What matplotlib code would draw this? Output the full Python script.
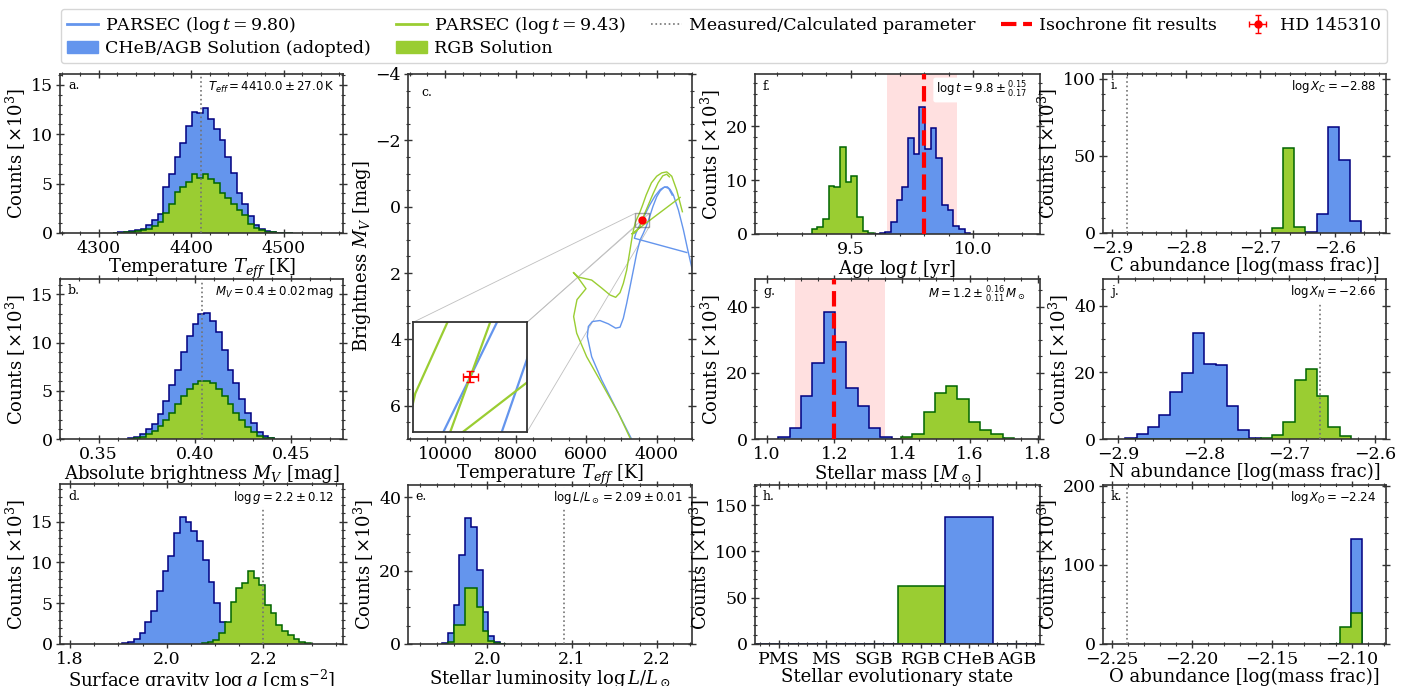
import matplotlib.pyplot as plt
import numpy as np
from matplotlib.lines import Line2D
from matplotlib.patches import ConnectionPatch, Patch
from matplotlib.ticker import AutoMinorLocator, MultipleLocator

plt.rcParams["font.family"] = ["DejaVu Serif Condensed", "DejaVu Serif"]
plt.rcParams["mathtext.fontset"] = "dejavuserif"
plt.rcParams["axes.edgecolor"] = "#333333"
plt.rcParams["axes.linewidth"] = 1.2

FIG_W, FIG_H = 1404, 686
BLUE, BLUE_EDGE = "cornflowerblue", "navy"
GREEN, GREEN_EDGE = "yellowgreen", "darkgreen"
LABEL_SIZE = 13
TICK_SIZE = 12.5

# a. effective temperature [K]; counts in thousands
teff_start, teff_step = 4314.8, 6.1
teff_cheb = [0.03, 0.06, 0.1, 0.2, 0.3, 0.45, 0.8, 1.3, 1.9, 4.7, 6.0, 7.7, 9.1, 10.8, 12.3, 12.2,
             12.7, 11.5, 10.5, 9.4, 7.7, 6.1, 4.1, 2.9, 1.75, 0.85, 0.45, 0.2, 0.1, 0.05, 0.03, 0.01]
teff_rgb = [0.02, 0.04, 0.07, 0.12, 0.2, 0.3, 0.45, 0.7, 1.1, 2.0, 2.9, 4.2, 4.7, 5.2, 6.0, 5.6,
            6.0, 5.5, 5.1, 4.0, 3.5, 2.9, 2.3, 1.85, 0.95, 0.5, 0.3, 0.15, 0.08, 0.05, 0.02, 0.01]
teff_obs = 4410.0

# b. absolute brightness M_V [mag]
mv_start, mv_step = 0.3655, 0.00303
mv_cheb = [0.1, 0.25, 0.48, 1.0, 1.6, 2.6, 3.9, 5.6, 7.2, 9.0, 10.7, 11.9, 13.0, 13.1, 12.2,
           11.1, 9.2, 7.2, 5.8, 4.2, 2.7, 1.7, 0.76, 0.3, 0.14]
mv_rgb = [0.05, 0.12, 0.25, 0.5, 0.8, 1.3, 2.0, 2.7, 3.6, 4.5, 5.2, 5.7, 6.0, 6.0, 5.8,
          5.2, 4.5, 3.6, 2.7, 2.0, 1.2, 0.7, 0.35, 0.15, 0.06]
mv_obs = 0.404

# d. surface gravity log g
logg_step = 0.0119
logg_cheb_start = 1.908
logg_cheb = [0.08, 0.2, 0.6, 1.3, 2.7, 4.1, 6.5, 9.0, 10.8, 13.6, 15.5, 15.0, 13.8, 12.6,
             10.3, 7.6, 5.0, 2.7, 1.6, 0.8, 0.3, 0.1]
logg_rgb_start = 2.0726
logg_rgb = [0.1, 0.2, 0.5, 1.4, 2.7, 5.2, 6.8, 7.5, 9.0, 8.1, 7.2, 4.8, 3.8, 2.3, 1.6, 1.1,
            0.6, 0.3, 0.1]
logg_obs = 2.2

# e. luminosity log L/Lsun
lum_start, lum_step = 1.9464, 0.00684
lum_cheb = [0.3, 3.1, 10.6, 24.2, 34.5, 31.8, 20.2, 8.8, 2.3, 0.45, 0.05]
lum_rgb = [0.1, 0.6, 5.2, 5.2, 15.2, 15.2, 10.2, 3.6, 0.9, 0.2, 0.02]
lum_obs = 2.0906

# f. age log t [yr]
age_start, age_step = 9.341, 0.0231
age_cheb = [0, 0.3, 0.3, 0, 0, 0, 0, 0, 0, 0, 0, 0, 0.12, 0.4, 2.2, 6.3, 8.7, 17.9, 14.9,
            23.6, 15.7, 19.7, 14.2, 5.3, 4.5, 1.4, 0.9, 0.2]
age_rgb = [0.9, 1.3, 2.7, 8.9, 8.7, 16.1, 9.6, 10.7, 3.2, 0.6, 0.2]
age_fit, age_lo, age_hi = 9.8, 9.65, 9.935

# g. stellar mass [Msun]
mass_cheb_start, mass_rgb_start, mass_step = 1.0343, 1.396, 0.0334
mass_cheb = [0.5, 3.3, 13.1, 23.1, 38.4, 29.2, 15.5, 9.9, 3.3, 0.5, 0, 0, 0, 0, 0, 0, 0, 0, 0.4]
mass_rgb = [0.5, 1.5, 8.2, 13.8, 16.1, 12.2, 5.2, 2.6, 1.4, 0.3]
mass_fit, mass_lo, mass_hi = 1.2, 1.085, 1.348

# h. evolutionary state
states = ["PMS", "MS", "SGB", "RGB", "CHeB", "AGB"]
state_rgb = [0, 0, 0, 63, 0, 0]
state_cheb = [0, 0, 0, 0, 137, 0]

# i. carbon
c_start, c_step = -2.6843, 0.01496
c_cheb = [0, 0, 0, 0.5, 12.5, 68.5, 47.1, 7.6]
c_rgb = [3.2, 55.0, 3.7]
c_obs = -2.88

# j. nitrogen
n_start, n_step = -2.892, 0.0132
n_cheb = [0.3, 1.5, 3.6, 7.1, 14.1, 19.8, 31.9, 22.6, 22.3, 10.0, 2.7, 0.4, 0, 0, 0, 0, 0, 0, 0.5]
n_rgb = [0, 0, 0, 0, 0, 0, 0, 0, 0, 0, 0, 0, 0.3, 1.1, 5.2, 17.6, 20.9, 12.8, 3.7, 1.0]
n_obs = -2.664

# k. oxygen
o_start, o_step = -2.1142, 0.006875
o_cheb = [0, 1.0, 133.0]
o_rgb = [0.5, 21.5, 39.0]
o_obs = -2.2406

# c. PARSEC isochrones (Teff [K], M_V [mag])
iso980_t = [4728, 5182, 5560, 5844, 5967, 5938, 5825, 5608, 5371, 5163, 5040, 4946, 4851, 4756,
            4662, 4567, 4470, 4380, 4299, 4209, 4110, 4000, 3900, 3800, 3700, 3620, 3527, 3385,
            3243, 3121, 3007, 2950]
iso980_mv = [6.97, 6.02, 5.22, 4.52, 3.91, 3.61, 3.46, 3.43, 3.53, 3.66, 3.63, 3.36, 2.91, 2.41,
             1.91, 1.40, 1.00, 0.80, 0.60, 0.33, 0.00, -0.30, -0.48, -0.58, -0.60, -0.52, -0.35,
             0.10, 0.70, 1.30, 1.83, 2.10]
iso980b_t = [3149, 4634, 4590, 4504, 4316, 4200, 4050, 3900, 3770, 3660, 3560]
iso980b_mv = [1.38, 0.95, 0.80, 0.60, 0.20, -0.05, -0.32, -0.52, -0.60, -0.55, -0.35]
iso943_t = [4756, 5087, 5560, 5986, 6269, 6355, 6260, 6005, 6222, 6364, 6222, 5844, 5560, 5324,
            5163, 5040, 4946, 4851, 4756, 4680, 4603, 4490, 4400, 4300, 4150, 4000, 3858, 3716,
            3574, 3433, 3310, 3272]
iso943_mv = [6.97, 6.22, 5.32, 4.52, 3.81, 3.31, 2.80, 2.47, 2.15, 1.98, 2.12, 2.21, 2.45, 2.66,
             2.73, 2.59, 2.31, 1.91, 1.30, 0.80, 0.46, 0.20, -0.05, -0.35, -0.72, -0.92, -1.02,
             -1.05, -0.92, -0.50, 0.00, 0.15]
iso943b_t = [3338, 4709, 4640, 4560, 4480, 4340, 4240, 4100, 3960, 3830, 3720, 3640]
iso943b_mv = [-0.28, 0.82, 0.80, 0.72, 0.60, 0.20, -0.05, -0.40, -0.72, -0.93, -0.98, -0.90]
star_teff, star_teff_err = 4410.0, 27.0
star_mv, star_mv_err = 0.40, 0.02

fig = plt.figure(figsize=(FIG_W / 100, FIG_H / 100), dpi=100)


def make_ax(left, top, right, bottom):
    return fig.add_axes([left / FIG_W, 1 - bottom / FIG_H,
                         (right - left) / FIG_W, (bottom - top) / FIG_H])


def style(ax, xmajor=None, ymajor=None):
    if xmajor:
        ax.xaxis.set_major_locator(MultipleLocator(xmajor))
    if ymajor:
        ax.yaxis.set_major_locator(MultipleLocator(ymajor))
    ax.xaxis.set_minor_locator(AutoMinorLocator())
    ax.yaxis.set_minor_locator(AutoMinorLocator())
    ax.tick_params(which="both", direction="inout", top=True, right=True,
                   color="#333333", labelsize=TICK_SIZE, pad=2)
    ax.tick_params(which="major", length=6, width=1.0)
    ax.tick_params(which="minor", length=3.5, width=0.8)


def edges(start, step, n):
    return start + step * np.arange(n + 1)


def hist(ax, start, step, cheb, rgb, rgb_start=None):
    ax.stairs(cheb, edges(start, step, len(cheb)), fill=True, facecolor=BLUE,
              edgecolor=BLUE_EDGE, lw=1.1, zorder=2)
    s = start if rgb_start is None else rgb_start
    ax.stairs(rgb, edges(s, step, len(rgb)), fill=True, facecolor=GREEN,
              edgecolor=GREEN_EDGE, lw=1.1, zorder=2.1)
    ax.set_ylabel(r"Counts [$\times 10^3$]", fontsize=LABEL_SIZE, labelpad=2)


def xlabel(ax, s):
    ax.set_xlabel(s, fontsize=LABEL_SIZE, labelpad=0)


def letter(ax, s, dx=8, dy=-12):
    ax.annotate(s, xy=(0, 1), xycoords="axes fraction", xytext=(dx, dy),
                textcoords="offset pixels", ha="left", va="center", fontsize=9)


def note(ax, s, dx=-9, dy=-13):
    ax.annotate(s, xy=(1, 1), xycoords="axes fraction", xytext=(dx, dy),
                textcoords="offset pixels", ha="right", va="center", fontsize=8.5,
                family="DejaVu Sans", math_fontfamily="dejavusans", zorder=6,
                bbox=dict(boxstyle="round,pad=0.2", fc="white", ec="none"))


def measured(ax, x):
    ax.axvline(x, color="0.45", ls=":", lw=1.2, zorder=3)


def fit(ax, x, lo, hi):
    ax.axvspan(lo, hi, color="red", alpha=0.12, lw=0, zorder=1)
    ax.axvline(x, color="red", ls="--", lw=3, zorder=4)


# panel a
ax = make_ax(60, 74, 343, 233)
hist(ax, teff_start, teff_step, teff_cheb, teff_rgb)
measured(ax, teff_obs)
ax.set_xlim(4258, 4564)
ax.set_ylim(0, 16.1)
style(ax, 100, 5)
xlabel(ax, r"Temperature $T_{eff}$ [K]")
letter(ax, "a.")
note(ax, r"$T_{eff} = 4410.0 \pm 27.0\,\mathrm{K}$")

# panel b
ax = make_ax(60, 279, 343, 439)
hist(ax, mv_start, mv_step, mv_cheb, mv_rgb)
measured(ax, mv_obs)
ax.set_xlim(0.33, 0.477)
ax.set_ylim(0, 16.6)
style(ax, 0.05, 5)
xlabel(ax, r"Absolute brightness $M_V$ [mag]")
letter(ax, "b.")
note(ax, r"$M_V = 0.4 \pm 0.02\,\mathrm{mag}$")

# panel d
ax = make_ax(60, 484, 343, 644)
hist(ax, logg_cheb_start, logg_step, logg_cheb, logg_rgb, logg_rgb_start)
measured(ax, logg_obs)
ax.set_xlim(1.779, 2.365)
ax.set_ylim(0, 19.6)
style(ax, 0.2, 5)
xlabel(ax, r"Surface gravity $\log g$ [$\mathrm{cm\,s^{-2}}$]")
letter(ax, "d.")
note(ax, r"$\log g = 2.2 \pm 0.12$")

# panel c: HR diagram
ax_c = make_ax(408, 74, 692, 439)
ax_c.plot(iso980_t, iso980_mv, color=BLUE, lw=1.0)
ax_c.plot(iso980b_t, iso980b_mv, color=BLUE, lw=1.0)
ax_c.plot(iso943_t, iso943_mv, color=GREEN, lw=1.0)
ax_c.plot(iso943b_t, iso943b_mv, color=GREEN, lw=1.0)
star = ax_c.errorbar(star_teff, star_mv, xerr=star_teff_err, yerr=star_mv_err, fmt="o",
                     color="red", ms=5, capsize=2, lw=1, zorder=5)
ax_c.set_xlim(11050, 3000)
ax_c.set_ylim(7, -4)
style(ax_c, 2000, 2)
xlabel(ax_c, r"Temperature $T_{eff}$ [K]")
ax_c.set_ylabel(r"Brightness $M_V$ [mag]", fontsize=LABEL_SIZE, labelpad=2)
letter(ax_c, "c.", 13, -19)

zoom_t = (4610, 4210)
zoom_mv = (0.6, 0.2)
axins = ax_c.inset_axes([0.0187, 0.020, 0.401, 0.30])
axins.plot(iso980_t, iso980_mv, color=BLUE, lw=1.6)
axins.plot(iso980b_t, iso980b_mv, color=BLUE, lw=1.6)
axins.plot(iso943_t, iso943_mv, color=GREEN, lw=1.6)
axins.plot(iso943b_t, iso943b_mv, color=GREEN, lw=1.6)
axins.errorbar(star_teff, star_mv, xerr=star_teff_err, yerr=star_mv_err, fmt="none",
               color="red", capsize=3, lw=1.5, zorder=5)
axins.set_xlim(*zoom_t)
axins.set_ylim(*zoom_mv)
axins.set_xticks([])
axins.set_yticks([])
for sp in axins.spines.values():
    sp.set_linewidth(1.3)
ax_c.indicate_inset([zoom_t[1], zoom_mv[1], zoom_t[0] - zoom_t[1], zoom_mv[0] - zoom_mv[1]],
                    edgecolor="0.3", lw=1.0)
for (ia, ib) in [((0, 1), (zoom_t[0], zoom_mv[1])), ((1, 1), (zoom_t[0], zoom_mv[0])),
                 ((1, 1), (zoom_t[1], zoom_mv[1])), ((1, 0), (zoom_t[1], zoom_mv[0]))]:
    con = ConnectionPatch(xyA=ia, coordsA=axins.transAxes, xyB=ib, coordsB=ax_c.transData,
                          color="0.75", lw=0.6)
    ax_c.add_artist(con)

# panel e
ax = make_ax(408, 485, 692, 644)
hist(ax, lum_start, lum_step, lum_cheb, lum_rgb)
measured(ax, lum_obs)
ax.set_xlim(1.906, 2.242)
ax.set_ylim(0, 43.4)
style(ax, 0.1, 20)
xlabel(ax, r"Stellar luminosity $\log L/L_\odot$")
letter(ax, "e.", 7)
note(ax, r"$\log L/L_\odot = 2.09 \pm 0.01$", -10)

# panel f
ax = make_ax(755, 74, 1040, 234)
hist(ax, age_start, age_step, age_cheb, age_rgb)
fit(ax, age_fit, age_lo, age_hi)
ax.set_xlim(9.11, 10.272)
ax.set_ylim(0, 29.7)
style(ax, 0.5, 10)
xlabel(ax, r"Age $\log t$ [yr]")
letter(ax, "f.")
note(ax, r"$\log t = 9.8 \pm ^{0.15}_{0.17}$", -13, -16)

# panel g
ax = make_ax(755, 279, 1040, 439)
hist(ax, mass_cheb_start, mass_step, mass_cheb, mass_rgb, mass_rgb_start)
fit(ax, mass_fit, mass_lo, mass_hi)
ax.set_xlim(0.9655, 1.8065)
ax.set_ylim(0, 48.4)
style(ax, 0.2, 20)
xlabel(ax, r"Stellar mass [$M_\odot$]")
letter(ax, "g.")
note(ax, r"$M = 1.2 \pm ^{0.16}_{0.11}\,M_\odot$", -14, -16)

# panel h
ax = make_ax(755, 485, 1040, 644)
pos = np.arange(len(states))
ax.bar(pos, state_rgb, width=1.0, color=GREEN, edgecolor=GREEN_EDGE, lw=1.1, zorder=2)
ax.bar(pos, state_cheb, width=1.0, color=BLUE, edgecolor=BLUE_EDGE, lw=1.1, zorder=2)
ax.set_ylabel(r"Counts [$\times 10^3$]", fontsize=LABEL_SIZE, labelpad=2)
ax.set_xlim(-0.5, 5.5)
ax.set_ylim(0, 171.6)
style(ax, 1, 50)
ax.set_xticks(pos)
ax.set_xticklabels(states)
xlabel(ax, "Stellar evolutionary state")
letter(ax, "h.")

# panel i
ax = make_ax(1103, 74, 1386, 233)
hist(ax, c_start, c_step, c_cheb, c_rgb)
measured(ax, c_obs)
ax.set_xlim(-2.912, -2.531)
ax.set_ylim(0, 103.2)
style(ax, 0.1, 50)
xlabel(ax, "C abundance [log(mass frac)]")
letter(ax, "i.")
note(ax, r"$\log X_C = -2.88$", -10)

# panel j
ax = make_ax(1103, 279, 1386, 439)
hist(ax, n_start, n_step, n_cheb, n_rgb)
measured(ax, n_obs)
ax.set_xlim(-2.918, -2.587)
ax.set_ylim(0, 48.1)
style(ax, 0.1, 20)
xlabel(ax, "N abundance [log(mass frac)]")
letter(ax, "j.")
note(ax, r"$\log X_N = -2.66$", -10)

# panel k
ax = make_ax(1103, 485, 1386, 644)
hist(ax, o_start, o_step, o_cheb, o_rgb)
measured(ax, o_obs)
ax.set_xlim(-2.2554, -2.0786)
ax.set_ylim(0, 201)
style(ax, 0.05, 100)
xlabel(ax, "O abundance [log(mass frac)]")
letter(ax, "k.")
note(ax, r"$\log X_O = -2.24$", -10)

handles = [
    Line2D([], [], color=BLUE, lw=2),
    Patch(facecolor=BLUE, edgecolor=BLUE),
    Line2D([], [], color=GREEN, lw=2),
    Patch(facecolor=GREEN, edgecolor=GREEN),
    Line2D([], [], color="0.45", ls=":", lw=1.2),
    Line2D([], [], color="red", ls="--", lw=3),
    star,
]
labels = [
    r"PARSEC ($\log t = 9.80$)",
    "CHeB/AGB Solution (adopted)",
    r"PARSEC ($\log t = 9.43$)",
    "RGB Solution",
    "Measured/Calculated parameter",
    "Isochrone fit results",
    "HD 145310",
]
fig.legend(handles, labels, loc="upper center", bbox_to_anchor=(724 / FIG_W, 1 - 9 / FIG_H),
           ncol=5, fontsize=12.5, columnspacing=1.45, handlelength=1.8, handletextpad=0.4,
           labelspacing=0.25, borderpad=0.35, borderaxespad=0)

fig.savefig("out.png", dpi=100)
